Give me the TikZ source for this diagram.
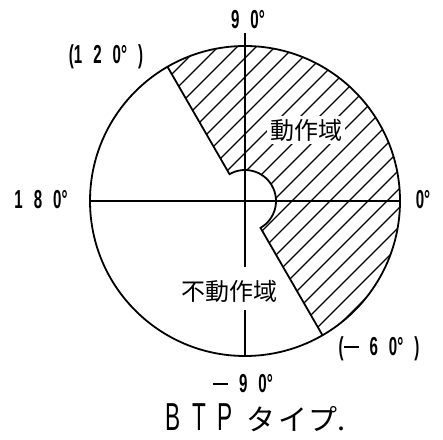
\documentclass[tikz,border=0pt]{standalone}
\usepackage{fontspec}
\usetikzlibrary{calc}
\newfontfamily\condfont[FakeStretch=0.58]{Liberation Sans}
\newfontfamily\jpfont{Noto Sans CJK JP}
\newcommand{\gp}{\kern 11pt}
\newcommand{\mns}{\rule[8pt]{15pt}{1.9pt}}
\begin{document}
\begin{tikzpicture}[x=1pt,y=1pt,
  outline/.style={line width=1.8pt},
  axisline/.style={line width=1.3pt},
  hatchline/.style={line width=1.3pt},
  num/.style={font=\condfont\bfseries\fontsize{26}{26}\selectfont, inner sep=0pt},
  jlabel/.style={font=\jpfont\fontsize{24}{24}\selectfont, inner sep=0pt}]
\useasboundingbox (0,0) rectangle (443,439);
\fill[white] (0,0) rectangle (443,439);
\coordinate (c) at (245,238);
\coordinate (left) at (90,238);
\coordinate (right) at (400,238);
\coordinate (top) at (245,406);
\coordinate (bot) at (245,83);
\coordinate (gt) at (245,172);
\coordinate (gb) at (245,129);
% hatched working region
\begin{scope}
  \clip ($(c)+(120:155pt)$) arc[start angle=120,end angle=-60,radius=155pt]
     -- ($(c)+(-60:31pt)$) arc[start angle=-60,end angle=120,radius=31pt] -- cycle;
  \foreach \k in {-250,-231,...,340} {
    \draw[hatchline] (\k,0) -- (\k+450,450);
  }
\end{scope}
% region border
\draw[outline,line join=miter] ($(c)+(120:155pt)$) -- ($(c)+(120:31pt)$)
   arc[start angle=120,end angle=-60,radius=31pt] -- ($(c)+(-60:155pt)$);
% outer circle
\draw[outline] (c) circle[radius=155pt];
% axes
\draw[axisline] (left) -- (right);
\draw[axisline] (top) -- (gt);
\draw[axisline] (gb) -- (bot);
% labels
\node[num] (l90) at (248,419) {9\gp 0°};
\node[num] (l120) at (106,382) {(1\gp 2\gp 0°\gp )};
\node[num] (l180) at (41,239) {1\gp 8\gp 0°};
\node[num] (l0) at (423,239) {0°};
\node[num] (lm60) at (379,90) {(\mns\gp 6\gp 0°\gp )};
\node[num] (lm90) at (243,55) {\mns\gp 9\gp 0°};
\node[jlabel,fill=white,inner sep=3pt] (work) at (306,309) {動作域};
\node[jlabel] (nowork) at (229,148) {不動作域};
\node[inner sep=0pt] (title) at (256,21) {{\condfont\fontsize{39}{39}\selectfont B\kern11pt T\kern12pt P}\kern14pt{\jpfont\fontsize{29}{29}\selectfont タ\kern3pt イ\kern1pt プ.}};
\end{tikzpicture}
\end{document}
